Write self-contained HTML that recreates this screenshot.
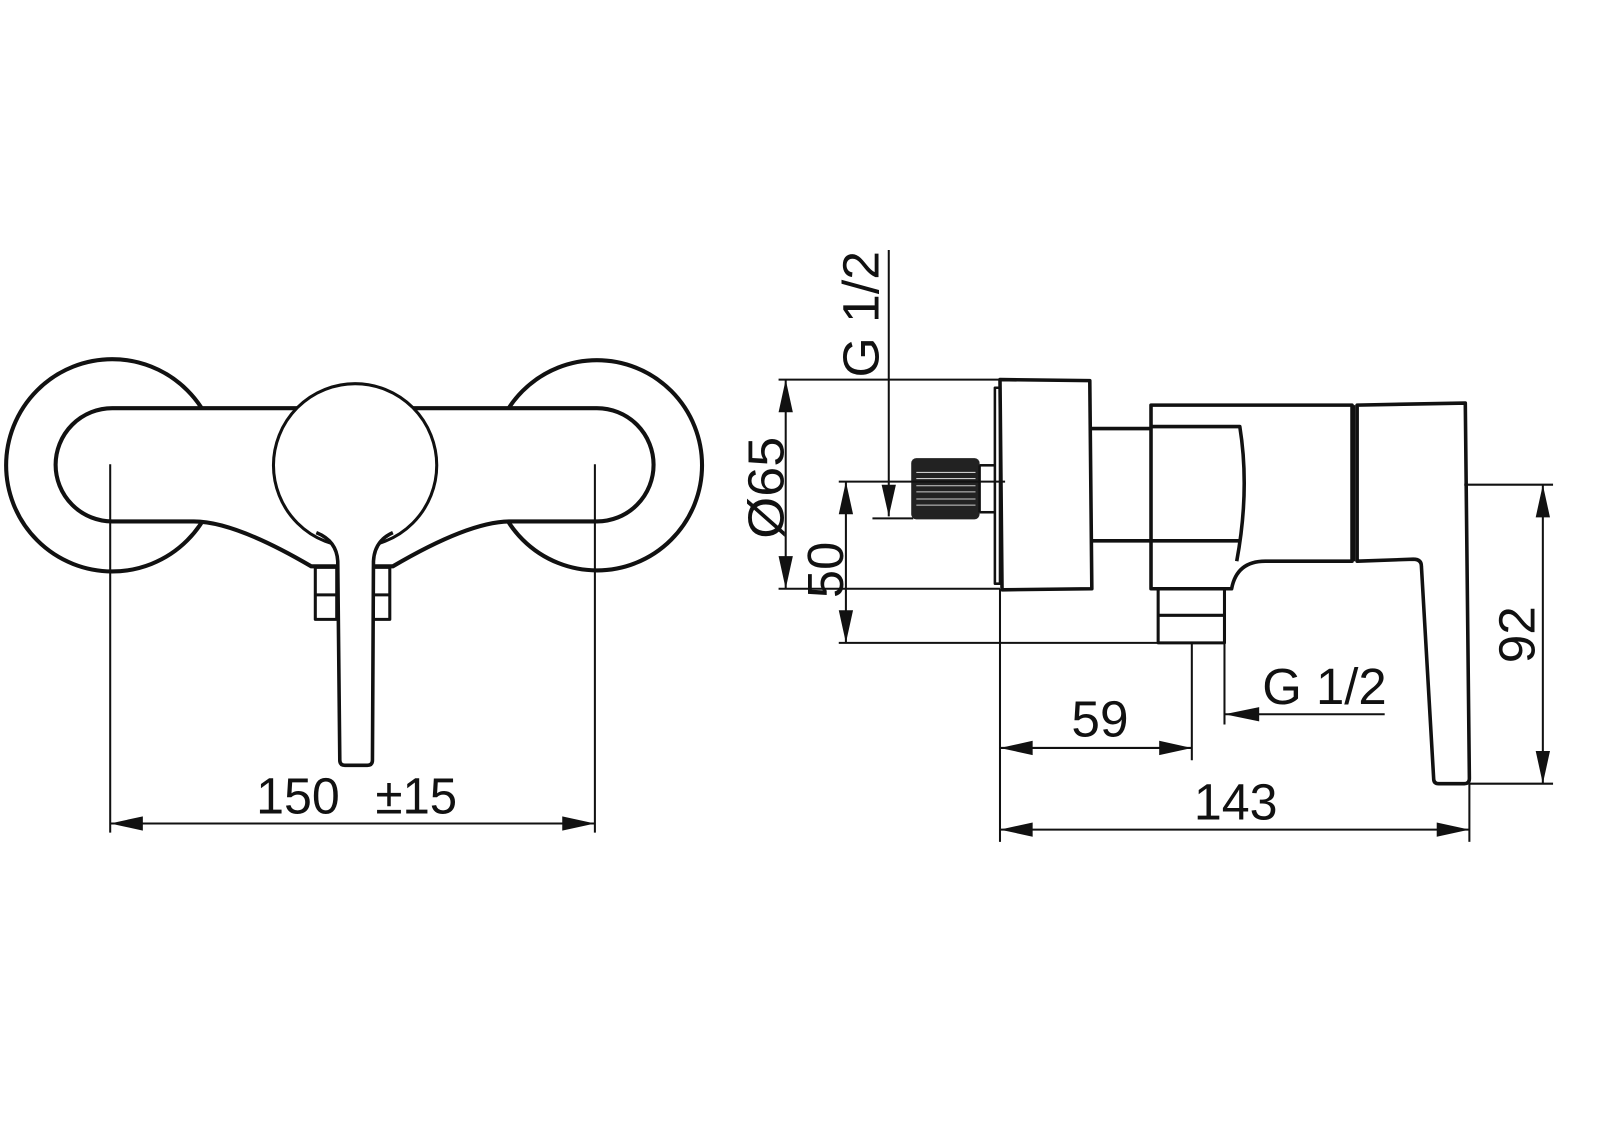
<!DOCTYPE html>
<html><head><meta charset="utf-8"><style>
html,body{margin:0;padding:0;background:#fff;}
svg{display:block;}
text{font-family:"Liberation Sans",sans-serif;font-size:50px;fill:#111;}
</style></head><body>
<svg width="1600" height="1131" viewBox="0 0 1600 1131" xmlns="http://www.w3.org/2000/svg">
<g transform="scale(1.0204)">
<g fill="none" stroke="#111" stroke-width="4" stroke-linejoin="round">
<ellipse cx="110" cy="456" rx="104" ry="104"/>
<ellipse cx="585" cy="456" rx="103" ry="103"/>
<path d="M110,400 L585,400 A55,55 0 0 1 585,511 L500,511 Q460,511 385,555 L305,555 Q230,511 190,511 L110,511 A55,55 0 0 1 110,400 Z" fill="#fff"/>
<ellipse cx="348" cy="456" rx="80" ry="80" fill="#fff" stroke-width="3"/>
<path d="M310,522 Q330,530 331,550 L333,745 Q333,750 338,750 L360,750 Q365,750 365,745 L366,550 Q367,530 385,522" fill="#fff" stroke-width="3.5"/>
<rect x="309" y="556" width="21" height="51" stroke-width="3"/>
<line x1="309" y1="583" x2="330" y2="583" stroke-width="3"/>
<rect x="366" y="556" width="16" height="51" stroke-width="3"/>
<line x1="366" y1="583" x2="382" y2="583" stroke-width="3"/>
</g>
<g stroke="#111" stroke-width="2" fill="none">
<line x1="108" y1="455" x2="108" y2="816"/>
<line x1="583" y1="455" x2="583" y2="816"/>
<line x1="108" y1="807" x2="583" y2="807"/>
</g>
<g fill="#111">
<polygon points="108,807 140,800 140,814"/>
<polygon points="583,807 551,800 551,814"/>
</g>
<text x="251" y="797" textLength="82" lengthAdjust="spacingAndGlyphs">150</text>
<text x="368" y="797" textLength="80" lengthAdjust="spacingAndGlyphs">±15</text>

<g fill="none" stroke="#111" stroke-width="3.5" stroke-linejoin="round">
<path d="M980,372 L1068,373 L1070,577 L982,578 Z"/>
<rect x="975" y="380" width="5" height="192" stroke-width="2.5"/>
<path d="M1070,420 L1128,420 M1070,530 L1128,530"/>
<path d="M1128,397 L1325,397 L1325,550 L1240,550 Q1212,550 1207,577 L1128,577 Z"/>
<path d="M1128,418 L1215,418 Q1225,480 1212,550" />
<line x1="1128" y1="530" x2="1215" y2="530"/>
<path d="M1330,397 L1436,395 L1440,763 Q1440,768 1435,768 L1410,768 Q1405,768 1405,763 L1393,555 Q1393,548 1385,548 L1330,550 Z"/>
<line x1="1327" y1="397" x2="1327" y2="550" stroke-width="2.5"/>
<rect x="1135" y="577" width="65" height="53" stroke-width="3"/>
<line x1="1135" y1="603" x2="1200" y2="603" stroke-width="3"/>
</g>
<rect x="893" y="449" width="67" height="60" rx="5" fill="#222"/>
<g stroke="#ccc" stroke-width="1">
<line x1="898" y1="463" x2="956" y2="463"/><line x1="898" y1="469" x2="956" y2="469"/>
<line x1="898" y1="476" x2="956" y2="476"/><line x1="898" y1="482" x2="956" y2="482"/>
<line x1="898" y1="489" x2="956" y2="489"/><line x1="898" y1="495" x2="956" y2="495"/>
</g>
<g stroke="#111" stroke-width="2.5" fill="none">
<line x1="960" y1="456" x2="975" y2="456"/><line x1="960" y1="502" x2="975" y2="502"/>
<line x1="960" y1="456" x2="960" y2="502"/>
</g>
<g stroke="#111" stroke-width="2" fill="none">
<line x1="871" y1="245" x2="871" y2="506"/>
<line x1="855" y1="508" x2="895" y2="508"/>
<line x1="763" y1="372" x2="980" y2="372"/>
<line x1="763" y1="577" x2="980" y2="577"/>
<line x1="770" y1="372" x2="770" y2="577"/>
<line x1="822" y1="472" x2="985" y2="472"/>
<line x1="822" y1="630" x2="1140" y2="630"/>
<line x1="829" y1="472" x2="829" y2="630"/>
<line x1="980" y1="577" x2="980" y2="825"/>
<line x1="1168" y1="630" x2="1168" y2="745"/>
<line x1="980" y1="733" x2="1168" y2="733"/>
<line x1="1200" y1="630" x2="1200" y2="710"/>
<line x1="1200" y1="700" x2="1357" y2="700"/>
<line x1="1440" y1="768" x2="1440" y2="825"/>
<line x1="980" y1="813" x2="1440" y2="813"/>
<line x1="1435" y1="475" x2="1522" y2="475"/>
<line x1="1440" y1="768" x2="1522" y2="768"/>
<line x1="1512" y1="475" x2="1512" y2="768"/>
</g>
<g fill="#111">
<polygon points="871,506 864,475 878,475"/>
<polygon points="770,372 763,404 777,404"/>
<polygon points="770,577 763,545 777,545"/>
<polygon points="829,472 822,504 836,504"/>
<polygon points="829,630 822,598 836,598"/>
<polygon points="980,733 1012,726 1012,740"/>
<polygon points="1168,733 1136,726 1136,740"/>
<polygon points="1200,700 1234,693 1234,707"/>
<polygon points="980,813 1012,806 1012,820"/>
<polygon points="1440,813 1408,806 1408,820"/>
<polygon points="1512,475 1505,507 1519,507"/>
<polygon points="1512,768 1505,736 1519,736"/>
</g>
<text transform="translate(861,370) rotate(-90)" textLength="124" lengthAdjust="spacingAndGlyphs">G 1/2</text>
<text transform="translate(768,528) rotate(-90)" textLength="100" lengthAdjust="spacingAndGlyphs">Ø65</text>
<text transform="translate(826,586) rotate(-90)" textLength="55" lengthAdjust="spacingAndGlyphs">50</text>
<text x="1050" y="722" textLength="56" lengthAdjust="spacingAndGlyphs">59</text>
<text x="1237" y="690" textLength="122" lengthAdjust="spacingAndGlyphs">G 1/2</text>
<text x="1170" y="803" textLength="82" lengthAdjust="spacingAndGlyphs">143</text>
<text transform="translate(1504,650) rotate(-90)" textLength="56" lengthAdjust="spacingAndGlyphs">92</text>
</g>
</svg>
</body></html>
